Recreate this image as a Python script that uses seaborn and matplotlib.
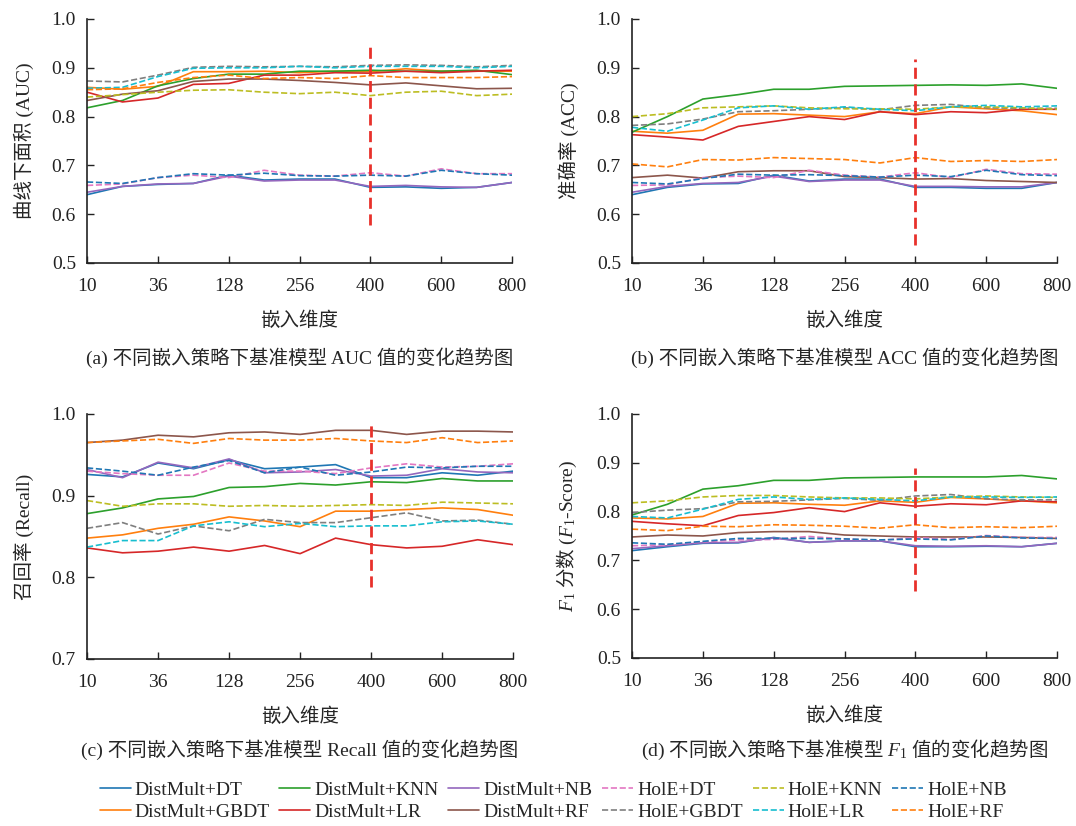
"""Trend of baseline model metrics under different embedding dimensions."""

import matplotlib
matplotlib.use('Agg')
import matplotlib.pyplot as plt
import seaborn as sns
import numpy as np
import pandas as pd


sns.set_style('ticks')
plt.rcParams['font.family'] = ['Liberation Serif', 'Noto Sans CJK SC']
plt.rcParams['mathtext.fontset'] = 'custom'
plt.rcParams['mathtext.rm'] = 'Liberation Serif'
plt.rcParams['mathtext.it'] = 'Liberation Serif:italic'
plt.rcParams['mathtext.sf'] = 'Noto Sans CJK SC'
plt.rcParams['font.size'] = 14
plt.rcParams['axes.unicode_minus'] = False

# embedding dimensions (intermediate ones are unlabeled on the axis)
dims = [10, 20, 36, 64, 128, 192, 256, 320, 400, 500, 600, 700, 800]
tick_dims = [10, 36, 128, 256, 400, 600, 800]

models = ['DistMult+DT', 'DistMult+GBDT', 'DistMult+KNN', 'DistMult+LR', 'DistMult+NB', 'DistMult+RF',
          'HolE+DT', 'HolE+GBDT', 'HolE+KNN', 'HolE+LR', 'HolE+NB', 'HolE+RF']

auc = {
    'DistMult+DT':   [0.640, 0.657, 0.661, 0.663, 0.680, 0.670, 0.672, 0.672, 0.655, 0.656, 0.653, 0.655, 0.665],
    'DistMult+GBDT': [0.860, 0.856, 0.862, 0.892, 0.892, 0.893, 0.890, 0.893, 0.892, 0.898, 0.893, 0.893, 0.893],
    'DistMult+KNN':  [0.818, 0.833, 0.863, 0.878, 0.887, 0.887, 0.893, 0.893, 0.895, 0.893, 0.893, 0.895, 0.886],
    'DistMult+LR':   [0.850, 0.830, 0.838, 0.866, 0.868, 0.885, 0.885, 0.890, 0.889, 0.893, 0.890, 0.893, 0.895],
    'DistMult+NB':   [0.645, 0.657, 0.662, 0.663, 0.678, 0.668, 0.670, 0.670, 0.657, 0.659, 0.656, 0.655, 0.665],
    'DistMult+RF':   [0.833, 0.846, 0.853, 0.872, 0.877, 0.877, 0.874, 0.870, 0.865, 0.869, 0.863, 0.857, 0.858],
    'HolE+DT':       [0.659, 0.662, 0.675, 0.680, 0.675, 0.690, 0.680, 0.678, 0.685, 0.678, 0.693, 0.683, 0.683],
    'HolE+GBDT':     [0.873, 0.871, 0.885, 0.901, 0.903, 0.902, 0.903, 0.902, 0.905, 0.906, 0.905, 0.902, 0.905],
    'HolE+KNN':      [0.840, 0.845, 0.850, 0.854, 0.855, 0.850, 0.847, 0.850, 0.843, 0.850, 0.852, 0.843, 0.846],
    'HolE+LR':       [0.858, 0.860, 0.882, 0.899, 0.900, 0.900, 0.903, 0.900, 0.903, 0.903, 0.903, 0.900, 0.903],
    'HolE+NB':       [0.666, 0.663, 0.675, 0.683, 0.680, 0.684, 0.679, 0.678, 0.680, 0.678, 0.690, 0.683, 0.680],
    'HolE+RF':       [0.855, 0.857, 0.870, 0.880, 0.885, 0.878, 0.880, 0.878, 0.884, 0.880, 0.880, 0.880, 0.882],
}

acc = {
    'DistMult+DT':   [0.640, 0.655, 0.662, 0.663, 0.680, 0.668, 0.672, 0.672, 0.655, 0.655, 0.653, 0.653, 0.665],
    'DistMult+GBDT': [0.770, 0.766, 0.772, 0.805, 0.806, 0.803, 0.800, 0.810, 0.806, 0.820, 0.816, 0.812, 0.804],
    'DistMult+KNN':  [0.768, 0.800, 0.836, 0.845, 0.856, 0.856, 0.862, 0.863, 0.864, 0.865, 0.864, 0.867, 0.858],
    'DistMult+LR':   [0.763, 0.758, 0.752, 0.780, 0.790, 0.800, 0.794, 0.810, 0.804, 0.810, 0.808, 0.815, 0.815],
    'DistMult+NB':   [0.645, 0.657, 0.663, 0.665, 0.678, 0.667, 0.670, 0.670, 0.657, 0.657, 0.656, 0.656, 0.665],
    'DistMult+RF':   [0.675, 0.680, 0.674, 0.687, 0.689, 0.689, 0.677, 0.675, 0.672, 0.673, 0.669, 0.667, 0.665],
    'HolE+DT':       [0.659, 0.660, 0.675, 0.678, 0.675, 0.690, 0.680, 0.676, 0.685, 0.675, 0.692, 0.683, 0.682],
    'HolE+GBDT':     [0.782, 0.785, 0.795, 0.810, 0.812, 0.815, 0.818, 0.814, 0.823, 0.825, 0.818, 0.817, 0.817],
    'HolE+KNN':      [0.800, 0.806, 0.818, 0.820, 0.822, 0.818, 0.816, 0.816, 0.815, 0.820, 0.820, 0.818, 0.815],
    'HolE+LR':       [0.778, 0.770, 0.793, 0.818, 0.822, 0.815, 0.820, 0.815, 0.812, 0.820, 0.823, 0.820, 0.822],
    'HolE+NB':       [0.665, 0.662, 0.673, 0.682, 0.680, 0.681, 0.679, 0.676, 0.680, 0.677, 0.690, 0.681, 0.679],
    'HolE+RF':       [0.703, 0.697, 0.712, 0.711, 0.716, 0.714, 0.712, 0.705, 0.716, 0.708, 0.710, 0.708, 0.712],
}

recall = {
    'DistMult+DT':   [0.926, 0.923, 0.940, 0.933, 0.944, 0.933, 0.935, 0.938, 0.922, 0.922, 0.928, 0.925, 0.930],
    'DistMult+GBDT': [0.848, 0.852, 0.860, 0.865, 0.874, 0.869, 0.862, 0.881, 0.881, 0.883, 0.885, 0.883, 0.876],
    'DistMult+KNN':  [0.878, 0.885, 0.896, 0.899, 0.910, 0.911, 0.915, 0.913, 0.917, 0.916, 0.921, 0.918, 0.918],
    'DistMult+LR':   [0.836, 0.830, 0.832, 0.837, 0.832, 0.839, 0.829, 0.848, 0.840, 0.836, 0.838, 0.846, 0.840],
    'DistMult+NB':   [0.932, 0.922, 0.941, 0.934, 0.945, 0.928, 0.929, 0.932, 0.924, 0.925, 0.933, 0.929, 0.928],
    'DistMult+RF':   [0.965, 0.968, 0.974, 0.972, 0.977, 0.978, 0.975, 0.980, 0.980, 0.975, 0.979, 0.979, 0.978],
    'HolE+DT':       [0.930, 0.927, 0.925, 0.925, 0.940, 0.930, 0.930, 0.927, 0.934, 0.939, 0.935, 0.936, 0.939],
    'HolE+GBDT':     [0.860, 0.867, 0.853, 0.863, 0.857, 0.871, 0.867, 0.867, 0.873, 0.879, 0.869, 0.870, 0.865],
    'HolE+KNN':      [0.894, 0.887, 0.890, 0.890, 0.887, 0.888, 0.887, 0.888, 0.889, 0.888, 0.892, 0.891, 0.890],
    'HolE+LR':       [0.837, 0.845, 0.845, 0.863, 0.868, 0.862, 0.866, 0.862, 0.863, 0.863, 0.868, 0.869, 0.865],
    'HolE+NB':       [0.934, 0.930, 0.925, 0.935, 0.943, 0.928, 0.935, 0.925, 0.929, 0.935, 0.934, 0.936, 0.936],
    'HolE+RF':       [0.965, 0.967, 0.969, 0.964, 0.970, 0.968, 0.968, 0.970, 0.967, 0.965, 0.971, 0.965, 0.967],
}

f1 = {
    'DistMult+DT':   [0.720, 0.728, 0.735, 0.736, 0.747, 0.737, 0.740, 0.740, 0.728, 0.728, 0.729, 0.728, 0.735],
    'DistMult+GBDT': [0.787, 0.785, 0.790, 0.817, 0.818, 0.815, 0.813, 0.822, 0.819, 0.829, 0.826, 0.822, 0.818],
    'DistMult+KNN':  [0.793, 0.815, 0.846, 0.853, 0.864, 0.864, 0.869, 0.870, 0.871, 0.871, 0.871, 0.874, 0.867],
    'DistMult+LR':   [0.780, 0.775, 0.771, 0.792, 0.798, 0.808, 0.800, 0.818, 0.811, 0.816, 0.814, 0.822, 0.820],
    'DistMult+NB':   [0.724, 0.730, 0.736, 0.737, 0.746, 0.737, 0.740, 0.740, 0.730, 0.729, 0.730, 0.728, 0.735],
    'DistMult+RF':   [0.748, 0.752, 0.750, 0.757, 0.759, 0.759, 0.752, 0.750, 0.748, 0.748, 0.748, 0.747, 0.745],
    'HolE+DT':       [0.730, 0.732, 0.738, 0.742, 0.743, 0.749, 0.744, 0.741, 0.747, 0.743, 0.751, 0.747, 0.747],
    'HolE+GBDT':     [0.798, 0.803, 0.806, 0.820, 0.821, 0.824, 0.827, 0.823, 0.832, 0.835, 0.826, 0.824, 0.824],
    'HolE+KNN':      [0.818, 0.822, 0.830, 0.833, 0.833, 0.830, 0.828, 0.828, 0.826, 0.830, 0.832, 0.830, 0.829],
    'HolE+LR':       [0.790, 0.787, 0.805, 0.825, 0.830, 0.825, 0.828, 0.825, 0.822, 0.830, 0.830, 0.829, 0.830],
    'HolE+NB':       [0.736, 0.733, 0.739, 0.745, 0.745, 0.745, 0.744, 0.742, 0.744, 0.742, 0.750, 0.746, 0.745],
    'HolE+RF':       [0.764, 0.761, 0.770, 0.769, 0.773, 0.772, 0.770, 0.766, 0.773, 0.767, 0.769, 0.767, 0.770],
}

panels = [
    (auc, '曲线下面积 (AUC)', '(a) 不同嵌入策略下基准模型 AUC 值的变化趋势图', (0.5, 1.0), (0.577, 0.943)),
    (acc, '准确率 (ACC)', '(b) 不同嵌入策略下基准模型 ACC 值的变化趋势图', (0.5, 1.0), (0.537, 0.919)),
    (recall, '召回率 (Recall)', '(c) 不同嵌入策略下基准模型 Recall 值的变化趋势图', (0.7, 1.0), (0.788, 0.988)),
    (f1, r'$F_1$ $\mathsf{分数}$ ($F_1$-Score)',
     r'(d) $\mathsf{不同嵌入策略下基准模型}$ $F_1$ $\mathsf{值的变化趋势图}$', (0.5, 1.0), (0.637, 0.890)),
]

colors = sns.color_palette('tab10', 10)
colors = colors + colors[:2]

fig = plt.figure(figsize=(10.76, 8.26), dpi=100)
rects = [
    [0.0809, 0.6816, 0.395, 0.2954],
    [0.5874, 0.6816, 0.395, 0.2954],
    [0.0809, 0.2022, 0.396, 0.2966],
    [0.5874, 0.2034, 0.395, 0.2954],
]
caption_y = [0.567, 0.567, 0.092, 0.092]

xpos = np.arange(len(dims))
for (vals, ylabel, caption, ylim, vline), rect, cy in zip(panels, rects, caption_y):
    ax = fig.add_axes(rect)
    for i, m in enumerate(models):
        df = pd.DataFrame({'pos': xpos, 'value': vals[m]})
        sns.lineplot(data=df, x='pos', y='value', ax=ax, color=colors[i],
                     linestyle='--' if m.startswith('HolE') else '-',
                     lw=1.2, label=m, legend=False)
    # selected embedding dimension
    ax.vlines(dims.index(400), vline[0], vline[1], colors='#e8312b',
              linestyles=(0, (4, 2)), lw=2, zorder=5)

    ax.set_xlim(0, len(dims) - 1)
    ax.set_ylim(*ylim)
    ax.set_yticks(np.arange(ylim[0], ylim[1] + 0.001, 0.1))
    ax.yaxis.set_major_formatter(plt.FormatStrFormatter('%.1f'))
    ax.set_xticks([dims.index(d) for d in tick_dims])
    ax.set_xticklabels([str(d) for d in tick_dims])
    ax.tick_params(direction='in', length=5, width=1, labelsize=14, colors='#222222')
    ax.tick_params(axis='x', pad=11)
    ax.tick_params(axis='y', pad=8)
    for s in ['top', 'right']:
        ax.spines[s].set_visible(False)
    for s in ['left', 'bottom']:
        ax.spines[s].set_color('#222222')
        ax.spines[s].set_linewidth(1.2)
    ax.set_xlabel('嵌入维度', fontsize=14, labelpad=12)
    ax.set_ylabel(ylabel, fontsize=14, labelpad=13)
    ax.grid(False)
    fig.text(rect[0] + rect[2] / 2, cy, caption, ha='center', va='center', fontsize=14)

handles, labels = ax.get_legend_handles_labels()
fig.legend(handles, labels, loc='center', bbox_to_anchor=(0.514, 0.030), ncol=6,
           frameon=False, fontsize=14, handlelength=1.6, handletextpad=0.2,
           columnspacing=0.5, labelspacing=0.2, borderaxespad=0)

plt.savefig('out.png', dpi=100)
